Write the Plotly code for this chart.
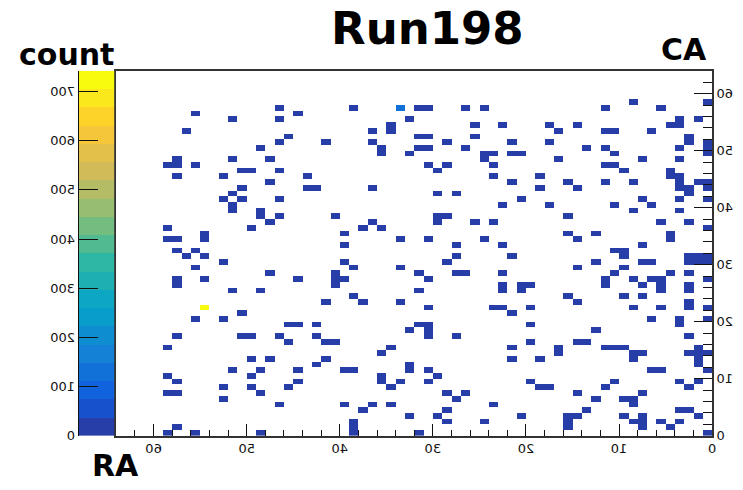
import numpy as np
import plotly.graph_objects as go

# ---- data: occupied (RA, CA) bins of the 64 x 64 hit map ----
ca_bins = [58, 57, 56, 55, 54, 53, 52, 51, 50, 49, 48, 47, 46, 45, 44, 43,
           42, 41, 40, 39, 38, 37, 36, 35, 34, 33, 32, 31, 30, 29, 28, 27,
           26, 25, 24, 23, 22, 21, 20, 19, 18, 17, 16, 15, 14, 13, 12, 11,
           10, 9, 8, 7, 6, 5, 4, 3, 2, 1, 0]
ra_bins = [
    [8, 0],
    [46, 38, 33, 31, 30, 26, 24, 11, 5],
    [55, 44],
    [51, 46, 32, 3, 1],
    [34, 25, 22, 17, 14, 4, 3],
    [56, 36, 34, 16, 11, 10, 6],
    [45, 31, 30, 25, 2],
    [46, 41, 36, 28, 21, 17, 2, 0],
    [48, 35, 31, 30, 26, 13, 11, 3, 0],
    [35, 32, 24, 23, 21, 20, 10, 0],
    [57, 51, 47, 24, 16, 7, 3],
    [58, 57, 55, 30, 28, 23, 11, 10],
    [50, 49, 46, 29, 9, 4],
    [57, 52, 43, 23, 18, 4, 3],
    [47, 21, 15, 11, 8, 3, 1, 0],
    [50, 43, 42, 36, 18, 14, 3, 2, 0],
    [51, 29, 27, 2],
    [52, 50, 46, 20, 7, 3, 0],
    [51, 22, 17, 10, 6],
    [51, 48, 8, 3],
    [48, 46, 40, 29, 28, 15],
    [47, 36, 29, 25, 23, 5, 2],
    [58, 49, 37, 35, 0],
    [54, 39, 15, 12, 4],
    [58, 57, 54, 33, 30, 24, 14, 4],
    [39, 27, 22, 7],
    [57, 55, 10, 9],
    [56, 54, 27, 21, 9, 2, 1, 0],
    [52, 39, 28, 12, 7, 6, 2, 1, 0],
    [55, 38, 33, 14, 9],
    [47, 40, 31, 27, 26, 22, 10, 4, 2],
    [57, 54, 44, 40, 39, 30, 11, 8, 6, 5, 0],
    [57, 40, 22, 20, 19, 11, 7, 5, 2],
    [51, 48, 31, 22, 20, 5, 2],
    [38, 15, 9, 7],
    [41, 37, 33, 14, 2],
    [54, 30, 23, 22, 19, 8, 5, 2, 0],
    [50, 21],
    [55, 52, 6, 3, 0],
    [45, 44, 42, 31, 30, 19, 3],
    [32, 30, 12],
    [57, 50, 49, 46, 42, 30, 27, 2],
    [45, 41, 40, 19, 14, 13],
    [58, 34, 21, 16, 11, 10, 9, 1],
    [35, 16, 8, 7, 2, 1, 0],
    [49, 47, 41, 21, 18, 8, 1],
    [42, 32, 1],
    [51, 48, 44, 39, 38, 32, 30, 6, 5, 0],
    [58, 49, 35, 29],
    [57, 44, 35, 33, 30, 19, 10, 3, 1],
    [52, 49, 45, 34, 18, 17, 11, 2],
    [58, 57, 48, 28, 26, 14, 7],
    [52, 27, 12, 9, 8],
    [46, 39, 36, 34, 23, 8],
    [37, 28, 13, 3, 2],
    [32, 29, 20, 15, 14, 9, 7, 1],
    [38, 28, 24, 15, 8, 7, 5, 3],
    [57, 38, 15, 7, 4],
    [58, 55, 48, 38, 31, 0],
]
single_count = 1
hot_ra = [54, 33]
hot_ca = [22, 57]
hot_counts = [742, 120]

n_bins = 64
z_max = 742
colorbar_ticks = [0, 100, 200, 300, 400, 500, 600, 700]
axis_ticks = [0, 10, 20, 30, 40, 50, 60]

# ---- histogram matrix (empty bins stay blank) ----
z = [[None] * n_bins for _ in range(n_bins)]
for ca, ras in zip(ca_bins, ra_bins):
    for ra in ras:
        z[ca][ra] = single_count
for ra, ca, c in zip(hot_ra, hot_ca, hot_counts):
    z[ca][ra] = c

edges = np.arange(n_bins + 1)

# ---- ROOT "kBird" palette split into 20 contour bands ----
stops = [0.0, 0.125, 0.25, 0.375, 0.5, 0.625, 0.75, 0.875, 1.0]
red = [0.2082, 0.0592, 0.0780, 0.0232, 0.1802, 0.5301, 0.8186, 0.9956, 0.9764]
green = [0.1664, 0.3599, 0.5041, 0.6419, 0.7178, 0.7492, 0.7328, 0.7862, 0.9832]
blue = [0.5293, 0.8684, 0.8385, 0.7914, 0.6425, 0.4662, 0.3499, 0.1968, 0.0539]
n_contours = 20


def bird(t):
    r = np.interp(t, stops, red)
    g = np.interp(t, stops, green)
    b = np.interp(t, stops, blue)
    return "rgb(%d,%d,%d)" % (round(r * 255), round(g * 255), round(b * 255))


colorscale = []
for k in range(n_contours):
    idx = int((k + 0.99) * 255 / n_contours)
    col = bird(min(idx, 254) / 254)
    colorscale.append([k / n_contours, col])
    colorscale.append([(k + 1) / n_contours, col])

band_edges = np.linspace(0, z_max, n_contours + 1)
band_mid = [[(band_edges[k] + band_edges[k + 1]) / 2] for k in range(n_contours)]

W, H = 743, 490
FONT = "DejaVu Sans"


def px_x(p):
    return p / W


def px_y(p):
    return 1 - p / H


fig = go.Figure()
fig.add_trace(go.Heatmap(
    x=edges, y=edges, z=z, zmin=0, zmax=z_max, colorscale=colorscale,
    showscale=False, hoverongaps=False, xaxis="x", yaxis="y",
))
fig.add_trace(go.Heatmap(
    x=[0, 1], y=band_edges, z=band_mid, zmin=0, zmax=z_max,
    colorscale=colorscale, showscale=False, xaxis="x2", yaxis="y2",
))

tickfont = dict(family=FONT, size=13, color="#111")
frame = dict(showline=True, linecolor="#333", linewidth=1.5, showgrid=False,
             zeroline=False, tickcolor="#111", tickwidth=1, tickfont=tickfont)

fig.update_layout(
    width=W, height=H, autosize=False,
    margin=dict(l=0, r=0, t=0, b=0),
    paper_bgcolor="white", plot_bgcolor="white",
    showlegend=False,
    xaxis=dict(domain=[px_x(117), px_x(716)], range=[n_bins, 0], anchor="y",
               tickvals=axis_ticks, ticks="inside", ticklen=12, mirror=True,
               minor=dict(ticks="inside", ticklen=6, dtick=2, tick0=0,
                          tickcolor="#111", showgrid=False),
               **frame),
    yaxis=dict(domain=[px_y(443), px_y(72)], range=[0, n_bins], anchor="x",
               side="right", tickvals=axis_ticks, ticks="inside", ticklen=18,
               mirror=True,
               minor=dict(ticks="inside", ticklen=9, dtick=2, tick0=0,
                          tickcolor="#111", showgrid=False),
               **frame),
    xaxis2=dict(domain=[px_x(79), px_x(115)], range=[0, 1], anchor="y2",
                visible=False),
    yaxis2=dict(domain=[px_y(443), px_y(72)], range=[0, z_max], anchor="x2",
                side="left", tickvals=colorbar_ticks, ticks="inside",
                ticklen=19, showline=True, linecolor="#111", linewidth=1,
                showgrid=False, zeroline=False, tickcolor="#111",
                tickfont=tickfont),
)

labels = [
    ("Run198", 430, 29, 45),
    ("count", 67, 55, 30),
    ("CA", 688, 50, 30),
    ("RA", 116, 473, 30),
]
for text, x, y, size in labels:
    fig.add_annotation(
        text=text, x=px_x(x), y=px_y(y), xref="paper", yref="paper",
        xanchor="center", yanchor="middle", showarrow=False,
        font=dict(family=FONT, size=size, color="black", weight="bold"),
    )

# tick labels are rendered mirrored left-to-right, each about its own centre
mirror_js = """
var gd = document.getElementById('{plot_id}');
gd.querySelectorAll('g.xtick text, g.ytick text, g.y2tick text').forEach(function(t){
  var b = t.getBBox();
  var cx = b.x + b.width / 2;
  var tr = t.getAttribute('transform') || '';
  t.setAttribute('transform', tr + ' translate(' + cx + ',0) scale(-1,1) translate(' + (-cx) + ',0)');
});
"""

fig.write_html("out.html", post_script=mirror_js)
